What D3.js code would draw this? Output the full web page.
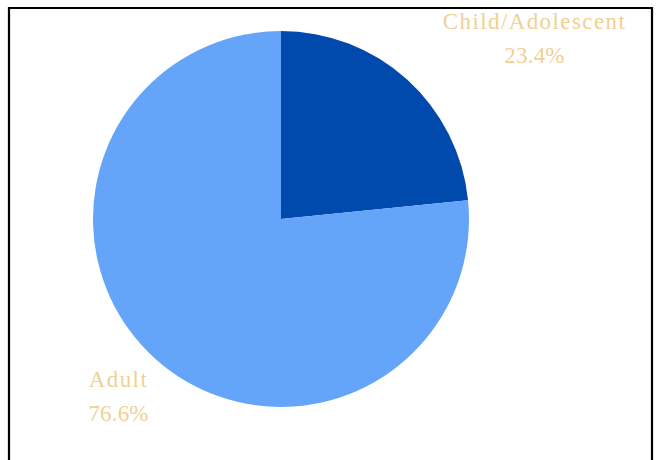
<!DOCTYPE html>
<html>
<head>
<meta charset="utf-8">
<script src="https://cdn.jsdelivr.net/npm/d3@7"></script>
<style>
  html, body { margin: 0; padding: 0; background: #ffffff; }
  svg { display: block; }
</style>
</head>
<body>
<svg id="chart" width="660" height="460"></svg>
<script>
const categories = ["Child/Adolescent", "Adult"];
const values = [23.4, 76.6];
const sliceColors = ["#004AAD", "#64A5FA"];

const W = 660, H = 460;
const svg = d3.select("#chart");

// frame (no bottom edge visible)
svg.append("path")
  .attr("d", `M9,${H + 5} L9,8 L652,8 L652,${H + 5}`)
  .attr("fill", "none")
  .attr("stroke", "#000")
  .attr("stroke-width", 2.2);

const cx = 281, cy = 219, R = 188;

const pie = d3.pie().sort(null).value(d => d.value).startAngle(0).endAngle(2 * Math.PI);
const arc = d3.arc().innerRadius(0).outerRadius(R);
const data = categories.map((c, i) => ({ cat: c, value: values[i], color: sliceColors[i] }));

const g = svg.append("g").attr("transform", `translate(${cx},${cy})`);
g.selectAll("path.slice")
  .data(pie(data))
  .join("path")
  .attr("class", "slice")
  .attr("d", arc)
  .attr("fill", d => d.data.color);

// label anchor positions (layout)
const labelPos = [
  { x: 534.5, y1: 29, y2: 63 },
  { x: 118.5, y1: 387, y2: 421 }
];
const fmt = d3.format(".1f");
const lg = svg.append("g")
  .attr("font-family", "'Liberation Serif', 'Times New Roman', serif")
  .attr("font-size", 23)
  .attr("fill", "#F0D194")
  .attr("text-anchor", "middle");
data.forEach((d, i) => {
  const p = labelPos[i];
  lg.append("text").attr("x", p.x).attr("y", p.y1)
    .attr("letter-spacing", 1.4).text(d.cat);
  lg.append("text").attr("x", p.x).attr("y", p.y2)
    .attr("letter-spacing", 0.2).text(fmt(d.value) + "%");
});
</script>
</body>
</html>
